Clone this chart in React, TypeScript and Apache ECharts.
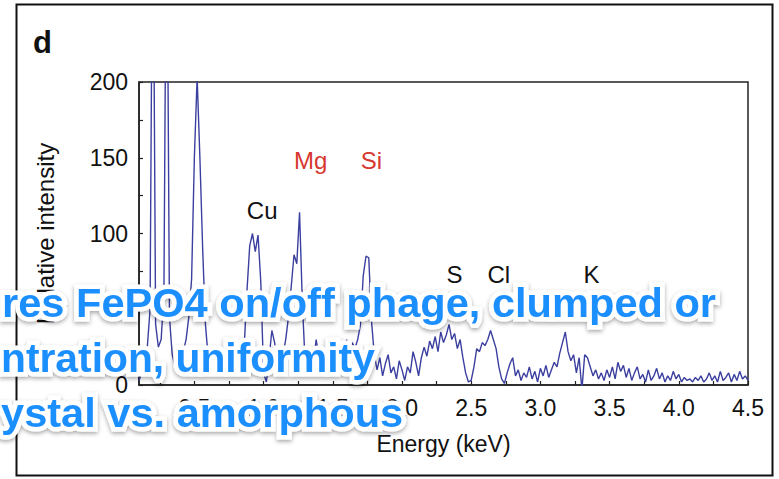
import React, { useEffect, useRef } from "react";
import * as echarts from "echarts";

// EDS spectrum sampled every 0.02 keV from 0.10 keV
const ENERGY_START = 0.1;
const ENERGY_STEP = 0.02;
const intensity = [
  3, 8, 15, 25, 50, 350, 40, 25, 30, 60,
  350, 45, 20, 12, 10, 14, 22, 30, 45, 70,
  150, 203, 150, 90, 40, 18, 10, 15, 8, 20,
  12, 6, 14, 22, 10, 18, 28, 15, 25, 62,
  92, 100, 88, 99, 68, 8, 2, 18, 36, 28,
  8, 12, 20, 30, 45, 65, 86, 80, 114, 55,
  15, 6, 22, 14, 30, 18, 9, 24, 14, 28,
  16, 21, 11, 26, 18, 30, 20, 28, 24, 30,
  40, 72, 85, 84, 42, 20, 10, 18, 6, 14,
  20, 8, 12, 4, 16, 10, 3, 12, 8, 22,
  15, 6, 18, 25, 19, 29, 24, 32, 22, 35,
  28, 33, 40, 30, 34, 24, 30, 18, 8, 2,
  3, 12, 24, 22, 28, 26, 30, 36, 30, 24,
  12, 4, 1, 8, 14, 18, 6, 10, 3, 8,
  5, 12, 4, 9, 2, 11, 6, 13, 5, 10,
  15, 12, 21, 28, 35, 22, 16, 20, 8, 18,
  -3, 20, 18, 12, 6, 10, 4, 8, 3, 10,
  5, 12, 4, 15, 9, 13, 5, 11, 3, 8,
  12, 4, 7, 2, 10, 3, 6, 11, 4, 8,
  2, 6, 3, 9, 4, 7, 2, 5, 3, 4,
  2, 5, 3, 6, 2, 4, 8, 3, 6, 2,
  9, 3, 5, 8, 2, 7, 3, 9, 4, 6,
  3,
];

const xLabelValues = [0.5, 1.0, 1.5, 2.0, 2.5, 3.0, 3.5, 4.0, 4.5];
const xTickValues = [
  0.25, 0.5, 0.75, 1.0, 1.25, 1.5, 1.75, 2.0, 2.25, 2.5, 2.75, 3.0,
  3.25, 3.5, 3.75, 4.0, 4.25, 4.5,
];
const yTickValues = [0, 25, 50, 75, 100, 125, 150, 175, 200];

const elementNames = ["Cu", "Mg", "Si", "S", "Cl", "K"];
const elementEnergies = [0.99, 1.34, 1.78, 2.38, 2.7, 3.37];
const elementLevels = [115, 148, 148, 73, 73, 73];
const elementColors = ["#111111", "#d7372f", "#d7372f", "#111111", "#111111", "#111111"];

const overlayLines = [
  "res FePO4 on/off phage, clumped or",
  "ntration, uniformity",
  "ystal vs. amorphous",
];

const FONT = '"Liberation Sans", Arial, Helvetica, sans-serif';

export default function App() {
  const ref = useRef<HTMLDivElement>(null);

  useEffect(() => {
    const chart = echarts.init(ref.current!, null, { renderer: "svg" });
    const spectrum = intensity.map((v, i) => [
      Number((ENERGY_START + i * ENERGY_STEP).toFixed(2)),
      v,
    ]);
    const labels = elementNames.map((n, i) => ({
      name: n,
      value: [elementEnergies[i], elementLevels[i]],
      label: { color: elementColors[i] },
    }));

    const overlayY = [303, 358, 413];
    const overlayX = [2, 1, 1];
    const overlayScale = [1.04, 1.02, 1.04];

    chart.setOption({
      animation: false,
      backgroundColor: "#ffffff",
      grid: {
        left: 139,
        right: 31,
        top: 82,
        bottom: 94,
        show: true,
        borderColor: "#222",
        borderWidth: 1.5,
        backgroundColor: "transparent",
      },
      xAxis: {
        type: "value",
        min: 0.1,
        max: 4.5,
        name: "Energy (keV)",
        nameLocation: "middle",
        nameGap: 47,
        nameTextStyle: { fontSize: 23, color: "#111", fontFamily: FONT },
        axisLine: { show: true, onZero: false, lineStyle: { color: "#222", width: 1.5 } },
        axisTick: {
          show: true,
          inside: true,
          length: 4,
          customValues: xTickValues,
          lineStyle: { color: "#222", width: 1.2 },
        },
        axisLabel: {
          customValues: xLabelValues,
          formatter: (v: number) => v.toFixed(1),
          fontSize: 23,
          color: "#111",
          fontFamily: FONT,
          margin: 11,
        },
        splitLine: { show: false },
      },
      yAxis: {
        type: "value",
        min: 0,
        max: 200,
        interval: 50,
        name: "Relative intensity",
        nameLocation: "middle",
        nameGap: 82,
        nameTextStyle: { fontSize: 24, color: "#111", fontFamily: FONT },
        axisLine: { show: true, onZero: false, lineStyle: { color: "#222", width: 1.5 } },
        axisTick: {
          show: true,
          inside: true,
          length: 4,
          customValues: yTickValues,
          lineStyle: { color: "#222", width: 1.2 },
        },
        axisLabel: {
          fontSize: 23,
          color: "#111",
          fontFamily: FONT,
          margin: 11,
        },
        splitLine: { show: false },
      },
      series: [
        {
          type: "line",
          data: spectrum,
          showSymbol: false,
          symbol: "none",
          clip: true,
          lineStyle: { color: "#3b3f9f", width: 1.4 },
          z: 3,
        },
        {
          type: "scatter",
          data: labels,
          symbolSize: 0,
          silent: true,
          itemStyle: { opacity: 1 },
          label: {
            show: true,
            position: "inside",
            formatter: (p: any) => p.name,
            fontSize: 24,
            fontFamily: FONT,
            opacity: 1,
          },
          z: 4,
        },
      ],
      graphic: [
        {
          type: "rect",
          silent: true,
          shape: { x: 16.5, y: 4.5, width: 756, height: 471 },
          style: { fill: "none", stroke: "#111", lineWidth: 2 },
          z: 1,
        },
        {
          type: "text",
          silent: true,
          x: 33,
          y: 42,
          style: {
            text: "d",
            font: `bold 31px ${FONT}`,
            fill: "#111",
            verticalAlign: "middle",
          },
          z: 2,
        },
        ...overlayLines.map((t, i) => ({
          type: "text",
          silent: true,
          x: overlayX[i],
          y: overlayY[i],
          scaleX: overlayScale[i],
          style: {
            text: t,
            x: 0,
            y: 0,
            font: `bold 40px ${FONT}`,
            fill: "#1e8fff",
            stroke: "#ffffff",
            lineWidth: 9,
            verticalAlign: "middle",
            textShadowColor: "rgba(0,0,0,0.35)",
            textShadowBlur: 4,
            textShadowOffsetY: 2,
          },
          z: 100,
        })),
      ],
    });

    return () => chart.dispose();
  }, []);

  return (
    <div
      ref={ref}
      style={{
        position: "absolute",
        left: 0,
        top: 0,
        width: 779,
        height: 479,
        background: "#fff",
      }}
    />
  );
}
